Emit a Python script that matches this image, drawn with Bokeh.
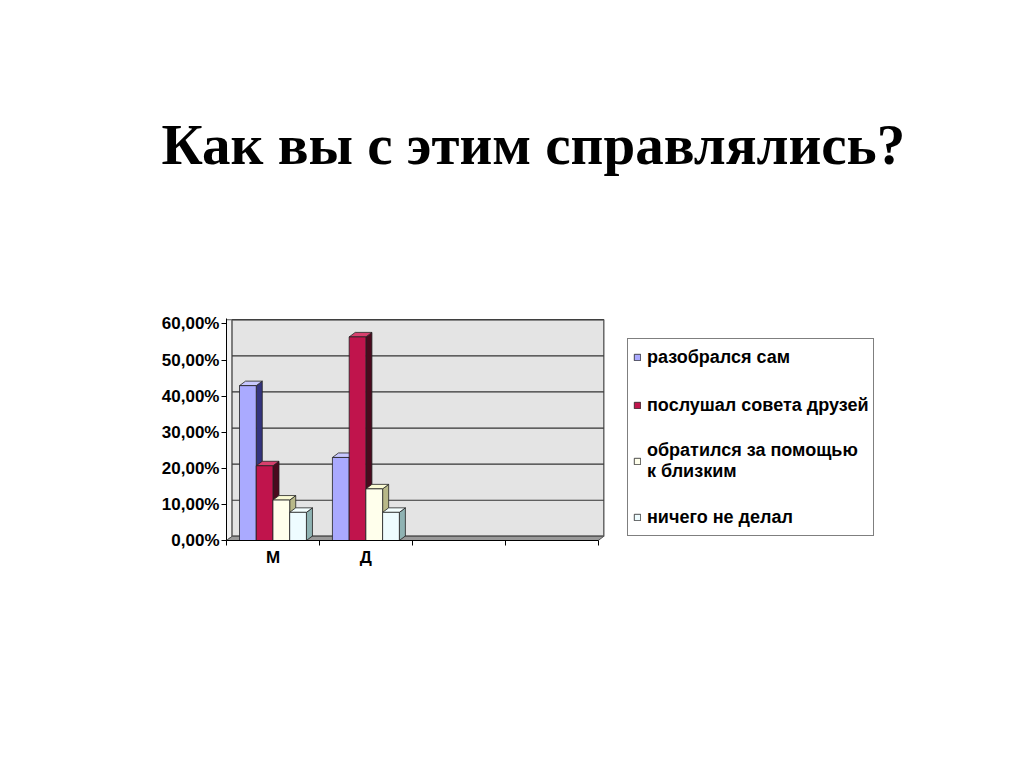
from bokeh.plotting import figure
from bokeh.models import (ColumnDataSource, Legend, LegendItem, FixedTicker, Range1d, Title)
from bokeh.embed import file_html
from bokeh.resources import INLINE

# ---------------- data ----------------
TITLE = "Как вы с этим справлялись?"
CATEGORIES = ["М", "Д"]
N_SLOTS = 4  # the category axis has four slots, the last two empty
SERIES = ["разобрался сам", "послушал совета друзей",
          "обратился за помощью\nк близким", "ничего не делал"]
VALUES_SELF = [42.9, 23.0]
VALUES_FRIENDS = [20.7, 56.4]
VALUES_RELATIVES = [11.2, 14.3]
VALUES_NOTHING = [7.8, 7.8]
Y_TICKS = [0, 10, 20, 30, 40, 50, 60]
Y_TICK_LABELS = ["0,00%", "10,00%", "20,00%", "30,00%", "40,00%", "50,00%", "60,00%"]

ALL_VALUES = [VALUES_SELF, VALUES_FRIENDS, VALUES_RELATIVES, VALUES_NOTHING]

# ---------------- style ----------------
FRONT = ["#aaaaff", "#c0144c", "#ffffec", "#eefcff"]
SIDE = ["#34347e", "#4a0a1e", "#b8b888", "#8fb3b3"]
TOP = ["#c8c8ff", "#d8406e", "#fbfbd4", "#f4ffff"]
EDGE = "#222222"
BAR_W = 0.18
DX, DY = 0.065, 1.25          # depth of a column (data units)
WDX, WDY = 0.06, 1.15         # depth of the back wall
X_END = N_SLOTS + 0.1
Y_END = 61.5

p = figure(frame_width=381, frame_height=222, x_range=Range1d(0, X_END),
           y_range=Range1d(0, Y_END), toolbar_location=None, output_backend="svg",
           min_border_left=226, min_border_top=318, min_border_bottom=80,
           min_border_right=401, outline_line_color=None)
p.xgrid.visible = False
p.ygrid.visible = False

# spacer between the frame and the slide title, then the title itself
p.add_layout(Title(text=" ", standoff=130, text_font_size="10px"), "above")
p.add_layout(Title(text=TITLE, align="left", offset=-65, standoff=0,
                   text_font="Liberation Serif", text_font_style="bold",
                   text_font_size="57px", text_color="black"), "above")

# left wall, floor and back wall
p.patch(x=[0, WDX, WDX, 0], y=[0, WDY, Y_TICKS[-1] + WDY, Y_TICKS[-1] + WDY],
        fill_color="#f2f2f2", line_color="#555555", line_width=1)
p.quad(left=[WDX], right=[N_SLOTS + WDX], bottom=[WDY], top=[Y_TICKS[-1] + WDY],
       fill_color="#e4e4e4", line_color="#666666", line_width=1.5)
p.segment(x0=[WDX] * len(Y_TICKS), x1=[N_SLOTS + WDX] * len(Y_TICKS),
          y0=[v + WDY for v in Y_TICKS], y1=[v + WDY for v in Y_TICKS],
          line_color="#333333", line_width=1.2)
p.patch(x=[0, N_SLOTS, N_SLOTS + WDX, WDX], y=[0, 0, WDY, WDY],
        fill_color="#9a9a9a", line_color="#555555", line_width=1)

# 3D columns
items = []
for s, vals in enumerate(ALL_VALUES):
    xs_c = [c + 0.5 + (s - 1.5) * BAR_W for c in range(len(vals))]
    side_x, side_y, top_x, top_y = [], [], [], []
    for xc, v in zip(xs_c, vals):
        r = xc + BAR_W / 2
        l = xc - BAR_W / 2
        side_x.append([r, r + DX, r + DX, r])
        side_y.append([0, DY, v + DY, v])
        top_x.append([l, r, r + DX, l + DX])
        top_y.append([v, v, v + DY, v + DY])
    p.patches(xs=side_x, ys=side_y, fill_color=SIDE[s], line_color=EDGE, line_width=0.8)
    p.patches(xs=top_x, ys=top_y, fill_color=TOP[s], line_color=EDGE, line_width=0.8)
    src = ColumnDataSource(dict(x=xs_c, top=vals))
    r_front = p.vbar(x="x", top="top", bottom=0, width=BAR_W, source=src,
                     fill_color=FRONT[s], line_color=EDGE, line_width=0.8)
    items.append(LegendItem(label=SERIES[s], renderers=[r_front]))

legend = Legend(items=items, location="top_left", margin=20, padding=5,
                spacing=22, label_height=26, glyph_width=8, glyph_height=8,
                label_standoff=6, border_line_color="black", border_line_width=1.5,
                background_fill_color="white", background_fill_alpha=1.0,
                label_text_font="Liberation Sans", label_text_font_style="bold",
                label_text_font_size="18px", label_text_color="black")
p.add_layout(legend, "right")

# axes
ya = p.yaxis[0]
ya.ticker = FixedTicker(ticks=Y_TICKS)
ya.major_label_overrides = {t_: lab for t_, lab in zip(Y_TICKS, Y_TICK_LABELS)}
ya.minor_tick_line_color = None
ya.major_tick_out = 5
ya.major_tick_in = 0
ya.axis_line_color = "black"
ya.major_tick_line_color = "black"
ya.major_label_text_font = "Liberation Sans"
ya.major_label_text_font_style = "bold"
ya.major_label_text_font_size = "17px"
ya.major_label_text_color = "black"
ya.major_label_standoff = 2

xa = p.xaxis[0]
label_pos = [c + 0.5 for c in range(N_SLOTS)]
xa.ticker = FixedTicker(ticks=label_pos, minor_ticks=list(range(N_SLOTS + 1)))
xa.major_label_overrides = {pos: (CATEGORIES[i] if i < len(CATEGORIES) else "")
                            for i, pos in enumerate(label_pos)}
xa.bounds = (0, N_SLOTS)
xa.major_tick_line_color = None
xa.major_tick_out = 0
xa.major_tick_in = 0
xa.minor_tick_line_color = "black"
xa.minor_tick_out = 5
xa.minor_tick_in = 0
xa.axis_line_color = "black"
xa.major_label_text_font = "Liberation Sans"
xa.major_label_text_font_style = "bold"
xa.major_label_text_font_size = "17px"
xa.major_label_text_color = "black"
xa.major_label_standoff = 2

open("out.html", "w").write(file_html(p, INLINE))
